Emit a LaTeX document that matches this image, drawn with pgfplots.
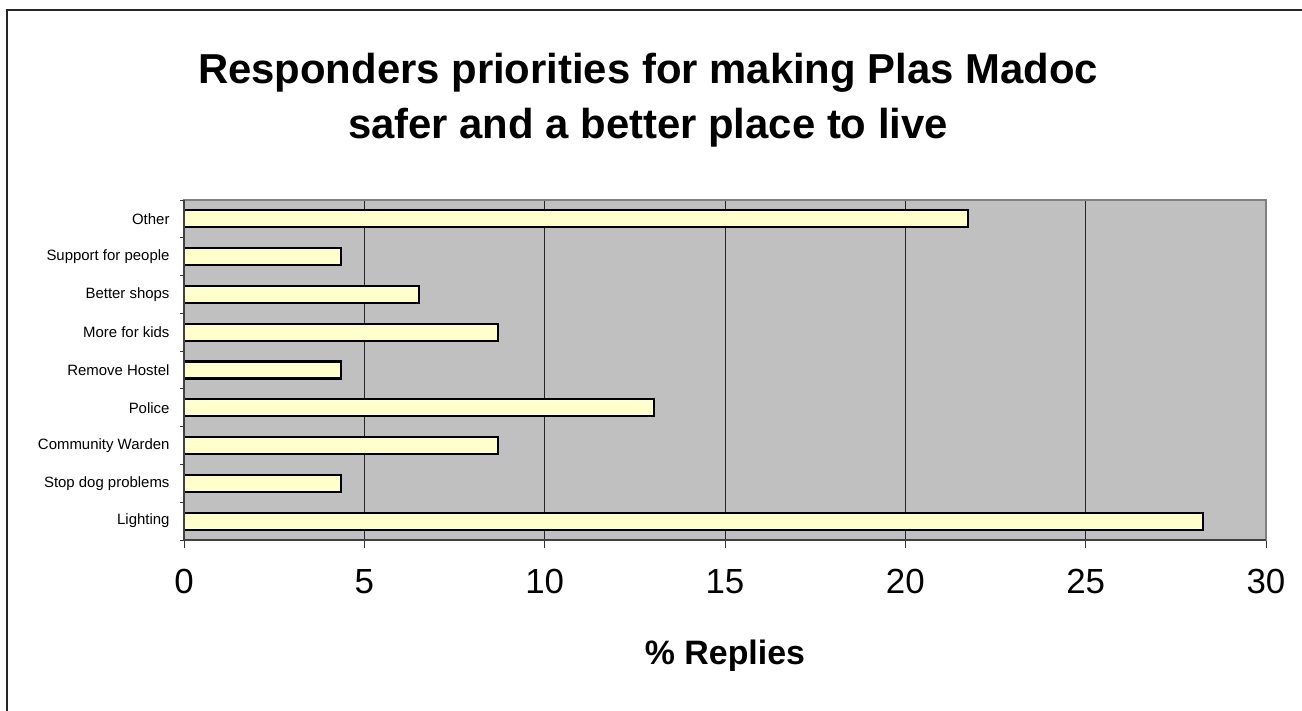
\documentclass[border=0pt]{standalone}
\usepackage{pgfplots}
\pgfplotsset{compat=1.18}
\usepackage{fontspec}
\setmainfont{Liberation Sans}
\definecolor{plotbg}{HTML}{C0C0C0}
\definecolor{barfill}{HTML}{FFFFCC}
\definecolor{frameg}{HTML}{808080}
\begin{document}
\begin{tikzpicture}
\path[use as bounding box] (0,0) rectangle (1302bp,711bp);
\draw[line width=2bp, color=black!85] (7bp,0bp) -- (7bp,701bp) -- (1302bp,701bp);
\node[anchor=base, font=\fontsize{42}{50}\selectfont\bfseries] at (648bp,627bp) {Responders priorities for making Plas Madoc};
\node[anchor=base, font=\fontsize{42}{50}\selectfont\bfseries] at (648bp,572bp) {safer and a better place to live};
\begin{axis}[
  at={(184bp,171bp)}, anchor=south west,
  scale only axis, width=1082bp, height=340bp,
  xmin=0, xmax=30, ymin=-0.5, ymax=8.5,
  xtick={0,5,...,30},
  ytick={-0.5,0.5,...,8.5}, yticklabels={},
  tick pos=left,
  extra y ticks={0,1,2,3,4,5,6,7,8},
  extra y tick labels={Lighting,Stop dog problems,Community Warden,Police,Remove Hostel,More for kids,Better shops,Support for people,Other},
  extra y tick style={tick style={draw=none}, yticklabel style={font=\fontsize{15}{18}\selectfont, xshift=-6bp}},
  axis background/.style={fill=plotbg},
  axis line style={draw=frameg, line width=1.5bp},
  xmajorgrids, major grid style={black!85, line width=0.8bp},
  tick align=outside,
  major tick length=5bp,
  x tick style={black!80, line width=0.8bp, /pgfplots/major tick length=8bp},
  y tick style={black!80, line width=0.8bp, /pgfplots/major tick length=4bp},
  /pgf/number format/assume math mode=true,
  xticklabel style={font=\fontsize{35}{42}\selectfont, anchor=base, yshift=-48bp},
  xlabel={\% Replies},
  xlabel style={font=\fontsize{34}{40}\selectfont\bfseries, at={(axis description cs:0.5,-0.3676)}, anchor=base},
  after end axis/.code={\draw[black!75, line width=1.5bp] (rel axis cs:0,1) -- (rel axis cs:0,0) -- (rel axis cs:1,0);},
]
\addplot[xbar, bar width=17bp, fill=barfill, draw=black, line width=2.2bp] coordinates {
  (28.26,0) (4.35,1) (8.70,2) (13.04,3) (4.35,4) (8.70,5) (6.52,6) (4.35,7) (21.74,8)
};
\end{axis}
\end{tikzpicture}
\end{document}
